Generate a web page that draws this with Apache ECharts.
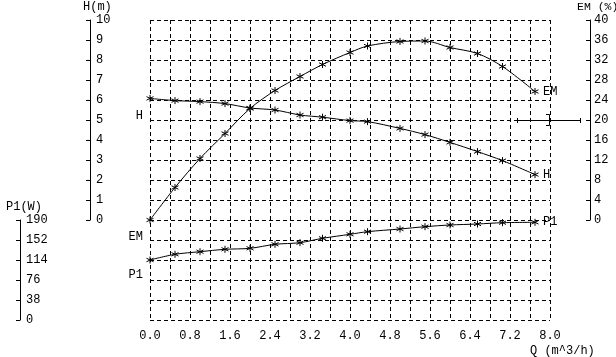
<!DOCTYPE html>
<html>
<head>
<meta charset="utf-8">
<script src="https://cdn.jsdelivr.net/npm/echarts@6/dist/echarts.min.js"></script>
<style>html,body{margin:0;padding:0;background:#fff;}#c{width:616px;height:357px;}</style>
</head>
<body>
<div id="c"></div>
<script>
// Data
const flowQ = [0, 0.5, 1.0, 1.5, 2.0, 2.5, 3.0, 3.45, 4.0, 4.35, 5.0, 5.5, 6.0, 6.55, 7.05, 7.7];
const headH = [6.08, 5.97, 5.92, 5.82, 5.6, 5.5, 5.25, 5.14, 4.97, 4.92, 4.58, 4.27, 3.88, 3.42, 2.97, 2.27];
const effEM = [0, 6.5, 12.3, 17.3, 22.3, 25.9, 28.7, 31.1, 33.5, 34.8, 35.7, 35.8, 34.5, 33.3, 30.7, 25.7];
const powerP1 = [114, 124.8, 129.8, 134.3, 136.2, 143.8, 146.9, 155.2, 162.8, 167.8, 172.9, 177.3, 180.5, 182.4, 184.9, 185.6];
const xTicks = {min: 0, max: 8, step: 0.4, labelStep: 0.8};
const hTicks = {min: 0, max: 10, step: 1};
const emTicks = {min: 0, max: 40, step: 4};
const p1Ticks = {min: 0, max: 190, step: 38};

const FONT = 'Liberation Mono';
const INK = '#000';
const STAR = 'path://M4,0L4,8M0.6,2L7.4,6M0.6,6L7.4,2';

function buildData(ys, name, startOffset) {
  const last = ys.length - 1;
  return flowQ.map((q, i) => {
    const item = {value: [q, ys[i]]};
    if (i === last) {
      item.label = {show: true, position: 'right', distance: 4, formatter: name};
    } else if (i === 0) {
      item.label = {show: true, position: 'left', distance: 3, offset: [0, startOffset], formatter: name};
    }
    return item;
  });
}

function lineSeries(name, ys, xi, yi, startOffset) {
  return {
    name, type: 'line', xAxisIndex: xi, yAxisIndex: yi,
    data: buildData(ys, name, startOffset),
    smooth: 0.3, clip: false,
    symbol: STAR, symbolSize: 7,
    itemStyle: {color: INK, borderColor: INK, borderWidth: 1},
    lineStyle: {color: INK, width: 1},
    label: {color: INK, fontFamily: FONT, fontSize: 12},
    emphasis: {disabled: true},
    animation: false
  };
}

const dashed = {show: true, lineStyle: {color: INK, type: [4, 3], width: 1}};
const axisTextStyle = {color: INK, fontFamily: FONT, fontSize: 12};
function solidAxis(tickInside) {
  return {
    axisLine: {show: true, onZero: false, lineStyle: {color: INK, width: 1}},
    axisTick: {show: true, inside: tickInside, length: 4, lineStyle: {color: INK, width: 1}}
  };
}

const chart = echarts.init(document.getElementById('c'), null, {renderer: 'canvas'});
chart.setOption({
  animation: false,
  backgroundColor: '#fff',
  grid: [
    {left: 150, right: 66, top: 20, height: 300},
    {left: 150, right: 66, top: 20, height: 200},
    {left: 150, right: 66, top: 220, height: 100}
  ],
  xAxis: [
    {gridIndex: 0, type: 'value', min: xTicks.min, max: xTicks.max, interval: xTicks.step,
     axisLine: {show: false}, axisTick: {show: false}, splitLine: dashed,
     axisLabel: Object.assign({margin: 10, showMinLabel: true, showMaxLabel: true,
       formatter: v => (Math.round(v * 10) % Math.round(xTicks.labelStep * 10) === 0 ? v.toFixed(1) : '')}, axisTextStyle)},
    {gridIndex: 1, type: 'value', min: xTicks.min, max: xTicks.max, show: false},
    {gridIndex: 2, type: 'value', min: xTicks.min, max: xTicks.max, show: false}
  ],
  yAxis: [
    {gridIndex: 0, type: 'value', min: 0, max: 15, interval: 1,
     axisLine: {show: false}, axisTick: {show: false}, axisLabel: {show: false}, splitLine: dashed},
    Object.assign({gridIndex: 1, type: 'value', position: 'left', offset: 60, min: hTicks.min, max: hTicks.max, interval: hTicks.step,
     axisLabel: Object.assign({inside: true, margin: 6, showMinLabel: true, showMaxLabel: true}, axisTextStyle),
     splitLine: {show: false}}, solidAxis(false)),
    Object.assign({gridIndex: 1, type: 'value', position: 'right', offset: 40, min: emTicks.min, max: emTicks.max, interval: emTicks.step,
     axisLabel: Object.assign({margin: 4, showMinLabel: true, showMaxLabel: true}, axisTextStyle),
     splitLine: {show: false}}, solidAxis(true)),
    Object.assign({gridIndex: 2, type: 'value', position: 'left', offset: 130, min: p1Ticks.min, max: p1Ticks.max, interval: p1Ticks.step,
     axisLabel: Object.assign({inside: true, margin: 6, showMinLabel: true, showMaxLabel: true}, axisTextStyle),
     splitLine: {show: false}}, solidAxis(false))
  ],
  series: [
    lineSeries('H', headH, 1, 1, 17),
    lineSeries('EM', effEM, 1, 2, 17),
    lineSeries('P1', powerP1, 2, 3, 15)
  ],
  graphic: [
    {type: 'text', left: 83, top: 1, style: {text: 'H(m)', fill: INK, font: '12px ' + FONT}},
    {type: 'text', left: 577, top: 1, style: {text: 'EM (%)', fill: INK, font: '11.5px ' + FONT}},
    {type: 'text', left: 6, top: 201, style: {text: 'P1(W)', fill: INK, font: '12px ' + FONT}},
    {type: 'text', left: 530, top: 345, style: {text: 'Q (m^3/h)', fill: INK, font: '12px ' + FONT}},
    {type: 'line', shape: {x1: 517, y1: 120.5, x2: 580, y2: 120.5}, style: {stroke: INK, lineWidth: 1}},
    {type: 'line', shape: {x1: 517.5, y1: 118, x2: 517.5, y2: 123}, style: {stroke: INK, lineWidth: 1}},
    {type: 'line', shape: {x1: 580.5, y1: 118, x2: 580.5, y2: 123}, style: {stroke: INK, lineWidth: 1}},
    {type: 'polyline', shape: {points: [[546, 114.5], [549.5, 114.5], [549.5, 125.5], [546, 125.5]]}, style: {stroke: INK, fill: null, lineWidth: 1}}
  ]
});
</script>
</body>
</html>
